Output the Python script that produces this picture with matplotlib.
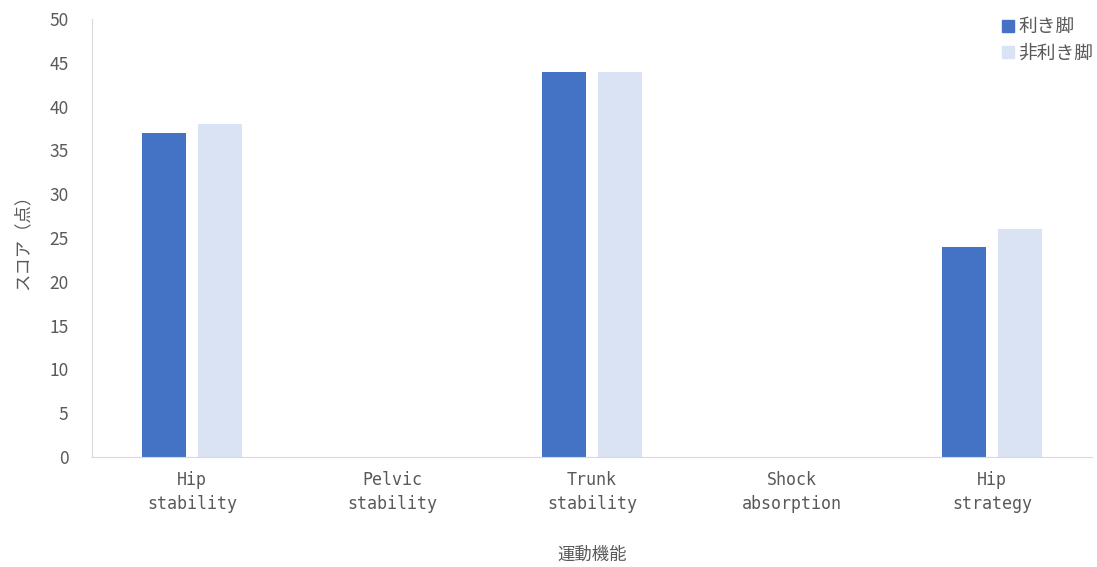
import numpy as np
import matplotlib.pyplot as plt
from matplotlib.lines import Line2D

plt.rcParams['font.family'] = ['Noto Sans CJK JP', 'DejaVu Sans']

categories = ["Hip\nstability", "Pelvic\nstability", "Trunk\nstability",
              "Shock\nabsorption", "Hip\nstrategy"]
dominant = [37, 0, 44, 0, 24]
non_dominant = [38, 0, 44, 0, 26]
series_names = ["利き脚", "非利き脚"]
colors = ["#4472C4", "#DAE3F3"]
text_color = "#595959"

fig = plt.figure(figsize=(10.97, 5.67), dpi=100)
ax = fig.add_axes([0.0839, 0.194, 0.9115, 0.7725])

x = np.arange(len(categories))
w = 0.22
ax.bar(x - 0.14, dominant, w, color=colors[0])
ax.bar(x + 0.14, non_dominant, w, color=colors[1])

ax.set_xlim(-0.5, len(categories) - 0.5)
ax.set_ylim(0, 50)
ax.set_yticks(np.arange(0, 51, 5))
ax.set_xticks(x)
ax.set_xticklabels(categories, family=['DejaVu Sans Mono'], fontsize=12,
                   color=text_color, linespacing=1.45)
ax.tick_params(axis='y', length=0, pad=17, labelsize=12.5, labelcolor=text_color)
ax.tick_params(axis='x', length=0, pad=10)

for side in ['top', 'right']:
    ax.spines[side].set_visible(False)
ax.spines['left'].set_color("#D9D9D9")
ax.spines['bottom'].set_color("#D9D9D9")

ax.set_ylabel("スコア（点）", fontsize=12.5, color=text_color)
ax.yaxis.set_label_coords(-0.069, 0.5)
ax.set_xlabel("運動機能", fontsize=12.5, color=text_color)
ax.xaxis.set_label_coords(0.5, -0.223)
ax.xaxis.label.set_va('center')
ax.yaxis.label.set_va('center')

handles = [Line2D([], [], marker='s', linestyle='none', markersize=8,
                  color=c) for c in colors]
ax.legend(handles, series_names, loc='upper right', bbox_to_anchor=(1.018, 1.045),
          frameon=False, fontsize=13.5, labelcolor=text_color,
          handletextpad=0.05, labelspacing=0.3, handlelength=1.0)

fig.savefig("out.png", dpi=100)
